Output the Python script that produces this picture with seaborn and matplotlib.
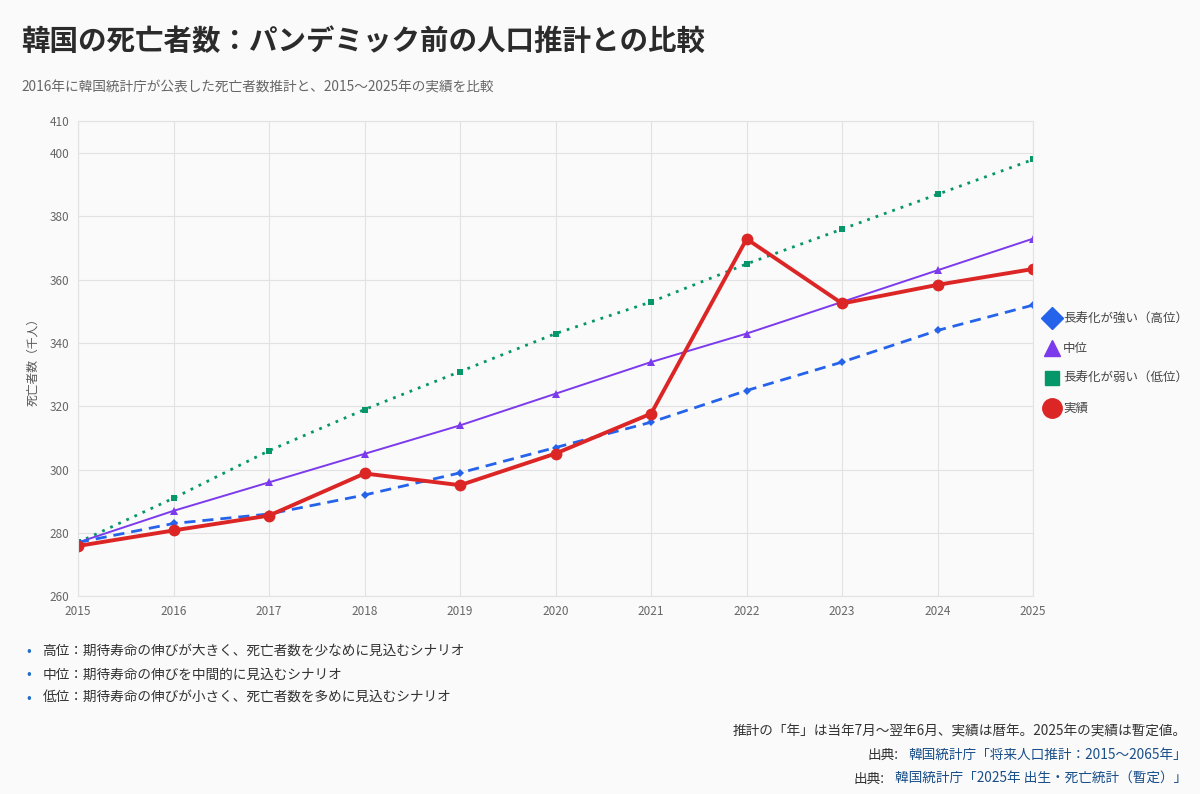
import matplotlib
matplotlib.use('Agg')
import matplotlib.pyplot as plt
from matplotlib.lines import Line2D
import pandas as pd
import seaborn as sns

years = list(range(2015, 2026))
high = [277, 283, 286, 292, 299, 307, 315, 325, 334, 344, 352]
mid = [277, 287, 296, 305, 314, 324, 334, 343, 353, 363, 373]
low = [277, 291, 306, 319, 331, 343, 353, 365, 376, 387, 398]
actual = [275.9, 280.8, 285.5, 298.8, 295.1, 305.1, 317.7, 372.9, 352.5, 358.4, 363.4]

labels = ['長寿化が強い（高位）', '中位', '長寿化が弱い（低位）', '実績']
yticks = [260, 280, 300, 320, 340, 360, 380, 400, 410]

notes = [
    '高位：期待寿命の伸びが大きく、死亡者数を少なめに見込むシナリオ',
    '中位：期待寿命の伸びを中間的に見込むシナリオ',
    '低位：期待寿命の伸びが小さく、死亡者数を多めに見込むシナリオ',
]

sns.set_theme(style='whitegrid')
plt.rcParams['font.family'] = ['Noto Sans CJK JP', 'DejaVu Sans']

bg = '#fafafa'
fig = plt.figure(figsize=(12, 7.94), dpi=100, facecolor=bg)
ax = fig.add_axes([0.065, 0.249, 0.796, 0.598])
ax.set_facecolor(bg)

df = pd.DataFrame({'year': years, 'high': high, 'mid': mid, 'low': low, 'actual': actual})

styles = {
    'high': dict(color='#2563eb', linestyle=(0, (4, 2.5)), linewidth=2.0, marker='D', markersize=4.5),
    'mid': dict(color='#7c3aed', linestyle='-', linewidth=1.4, marker='^', markersize=6),
    'low': dict(color='#059669', linestyle=(0, (1, 2.2)), linewidth=2.0, marker='s', markersize=4.5),
    'actual': dict(color='#dc2626', linestyle='-', linewidth=2.8, marker='o', markersize=8.5),
}
for col in ['low', 'mid', 'high', 'actual']:
    st = styles[col]
    sns.lineplot(data=df, x='year', y=col, ax=ax, color=st['color'], linewidth=st['linewidth'],
                 marker=st['marker'], markersize=st['markersize'], markeredgewidth=0)
    ax.lines[-1].set_linestyle(st['linestyle'])

ax.set_xlim(2015, 2025)
ax.set_ylim(260, 410)
ax.set_xticks(years)
ax.set_yticks(yticks)
ax.tick_params(axis='both', labelsize=8.5, colors='#666666', length=0, pad=6)
ax.grid(True, color='#e2e2e2', linewidth=0.8)
for s in ax.spines.values():
    s.set_color('#e2e2e2')
    s.set_linewidth(0.8)
ax.set_xlabel('')
ax.set_ylabel('死亡者数（千人）', fontsize=8.5, color='#555555', labelpad=8)

handles = [
    Line2D([], [], color='#2563eb', marker='D', linestyle='none', markersize=11),
    Line2D([], [], color='#7c3aed', marker='^', linestyle='none', markersize=12),
    Line2D([], [], color='#059669', marker='s', linestyle='none', markersize=10),
    Line2D([], [], color='#dc2626', marker='o', linestyle='none', markersize=14),
]
leg = ax.legend(handles, labels, loc='center left', bbox_to_anchor=(1.005, 0.49), frameon=False,
                fontsize=9, labelspacing=1.35, handletextpad=0.2, handlelength=1.4, borderaxespad=0)
for t in leg.get_texts():
    t.set_color('#444444')

fig.text(0.018, 0.947, '韓国の死亡者数：パンデミック前の人口推計との比較', fontsize=20.5, fontweight='bold',
         color='#2b2b2b', va='center')
fig.text(0.018, 0.890, '2016年に韓国統計庁が公表した死亡者数推計と、2015〜2025年の実績を比較', fontsize=9.85,
         color='#666666', va='center')

for i, n in enumerate(notes):
    y = 1 - (651 + i * 23.5) / 794
    fig.text(0.022, y, '•', fontsize=10, color='#1f6fc5', va='center')
    fig.text(0.0355, y, n, fontsize=9.85, color='#333333', va='center')

fig.text(0.989, 1 - 731 / 794, '推計の「年」は当年7月〜翌年6月、実績は暦年。2025年の実績は暫定値。',
         fontsize=9.85, color='#333333', ha='right', va='center')
src = ['韓国統計庁「将来人口推計：2015〜2065年」', '韓国統計庁「2025年 出生・死亡統計（暫定）」']
for i, s in enumerate(src):
    y = 1 - (755 + i * 24) / 794
    t = fig.text(0.989, y, s, fontsize=9.85, color='#1a4f8a', ha='right', va='center')
    fig.canvas.draw()
    bb = t.get_window_extent()
    fig.text(bb.x0 / fig.bbox.width - 0.008, y, '出典:', fontsize=9.85, color='#333333', ha='right', va='center')

fig.savefig('out.png', dpi=100, facecolor=bg)
